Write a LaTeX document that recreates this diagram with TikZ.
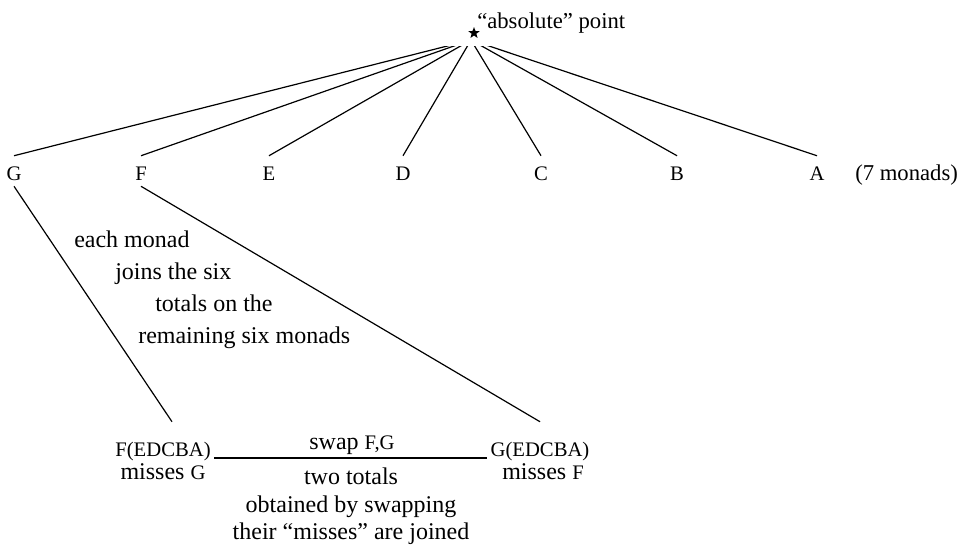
\documentclass[tikz,border=0pt]{standalone}
\usepackage{fontspec}
\setmainfont{Liberation Serif}
\usetikzlibrary{shapes.geometric}
\newcommand{\capsz}{\fontsize{15.5}{18}\selectfont}
\begin{document}
\begin{tikzpicture}[x=0.75pt,y=-0.75pt,
  txt/.style={font=\fontsize{18}{21}\selectfont, inner sep=0pt, anchor=base},
  note/.style={txt, anchor=base west},
  small/.style={font=\fontsize{17}{20}\selectfont, inner sep=0pt, anchor=base west},
  monad/.style={font=\capsz, inner xsep=0pt, inner ysep=4.5pt, text height=13.5pt, text depth=0pt, anchor=base},
  total/.style={font=\capsz, inner xsep=2.5pt, inner ysep=0pt, text height=25.5pt, text depth=0pt, anchor=base},
  spoke/.style={line width=0.9pt},
  joinline/.style={line width=1.4pt}]
\useasboundingbox (0,0) rectangle (966,544);
% apex
\node[star, star points=5, star point ratio=2.4, fill=black, inner sep=0pt, minimum size=9pt] (apex) at (474,33) {};
\coordinate (hub) at (471,40);
\node[small] (abs) at (477,28) {“absolute” point};
% monads
\node[monad] (G) at (14,180) {G};
\node[monad] (F) at (141,180) {F};
\node[monad] (E) at (269,180) {E};
\node[monad] (D) at (403,180) {D};
\node[monad] (C) at (541,180) {C};
\node[monad] (B) at (677,180) {B};
\node[monad] (A) at (817,180) {A};
\node[small] (seven) at (855,180) {(7 monads)};
\begin{scope}
\clip (0,46) rectangle (966,200);
\foreach \m in {G,F,E,D,C,B,A} \draw[spoke] (hub) -- (\m.north);
\end{scope}
% note
\node[note] (n1) at (74,247) {each monad};
\node[note] (n2) at (115,279) {joins the six};
\node[note] (n3) at (155,311) {totals on the};
\node[note] (n4) at (138,343) {remaining six monads};
% totals
\node[total] (fe) at (163,456) {F(EDCBA)};
\node[total] (ge) at (540,456) {G(EDCBA)};
\node[txt] (fm) at (163,479) {misses {\capsz G}};
\node[txt] (gm) at (543,479) {misses {\capsz F}};
\draw[spoke] (G.south) -- ([xshift=6.75pt]fe.north);
\draw[spoke] (F.south) -- (ge.north);
\draw[joinline] ([yshift=-1.5pt]fe.base east) -- ([yshift=-1.5pt]ge.base west);
\node[txt] (sw) at (352,449) {swap {\capsz F,G}};
\node[txt] (t1) at (351,484) {two totals};
\node[txt] (t2) at (351,512) {obtained by swapping};
\node[txt] (t3) at (351,539) {their “misses” are joined};
\end{tikzpicture}
\end{document}
